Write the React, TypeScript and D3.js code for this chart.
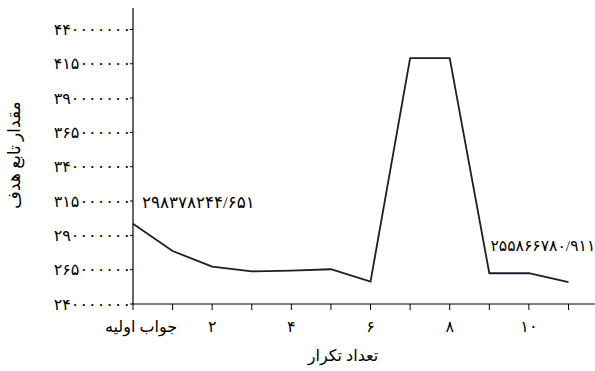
import React from "react";
import * as d3 from "d3";

const iterations = [0, 1, 2, 3, 4, 5, 6, 7, 8, 9, 10, 11];
const objectiveValues = [
  298378244.651, 278600000, 267200000, 263800000, 264300000, 265300000,
  256300000, 419100000, 419100000, 262400000, 262400000, 255866780.911,
];
const yTickValues = [240e6, 265e6, 290e6, 315e6, 340e6, 365e6, 390e6, 415e6, 440e6];
const xTickLabels = ["جواب اولیه", "", "۲", "", "۴", "", "۶", "", "۸", "", "۱۰", ""];
const annotations = [
  { index: 0, text: "۲۹۸۳۷۸۲۴۴/۶۵۱" },
  { index: 11, text: "۲۵۵۸۶۶۷۸۰/۹۱۱" },
];
const yTitle = "مقدار تابع هدف";
const xTitle = "تعداد تکرار";

const faDigits = "۰۱۲۳۴۵۶۷۸۹";
const toFa = (s: string) => s.replace(/[0-9]/g, (d) => faDigits[+d]);

const W = 595;
const H = 371;
const FONT = "'Liberation Serif', 'DejaVu Serif', 'DejaVu Sans', serif";

export default function App() {
  const x = d3.scaleLinear().domain([0, 11.67]).range([133, 595]);
  const y = d3.scaleLinear().domain([240e6, 455.6e6]).range([304, 8]);
  const line = d3
    .line<number>()
    .x((_, i) => x(iterations[i]))
    .y((d) => y(d));
  const ink = "#1c1c2e";
  return (
    <div style={{ position: "fixed", left: 0, top: 0 }}>
      <svg width={W} height={H} style={{ display: "block", background: "#fff" }} fontFamily={FONT}>
        {/* y axis */}
        <line x1={x(0)} x2={x(0)} y1={y.range()[1]} y2={y.range()[0]} stroke="#000" strokeWidth={1.2} />
        {yTickValues.map((v) => (
          <g key={v} transform={`translate(0,${y(v)})`}>
            <line x1={x(0) - 3} x2={x(0)} stroke="#000" strokeWidth={1} />
            <text x={x(0) - 2} dy="0.35em" textAnchor="end" fontSize={16} fill="#000" direction="ltr">
              {toFa(String(v))}
            </text>
          </g>
        ))}
        {/* x axis */}
        <line x1={x(0) - 1} x2={x.range()[1]} y1={y(240e6)} y2={y(240e6)} stroke="#000" strokeWidth={1.2} />
        {iterations.map((it, i) => (
          <g key={it} transform={`translate(${x(it)},${y(240e6)})`}>
            <line y1={0} y2={6} stroke="#000" strokeWidth={1} />
            {xTickLabels[i] && (
              <text x={i === 0 ? 8 : 0} y={28} textAnchor="middle" fontSize={16} fill="#000">
                {xTickLabels[i]}
              </text>
            )}
          </g>
        ))}
        {/* series */}
        <path d={line(objectiveValues) || ""} fill="none" stroke={ink} strokeWidth={1.8} strokeLinejoin="miter" />
        {/* annotations */}
        <text x={x(annotations[0].index) + 9} y={y(objectiveValues[annotations[0].index]) - 16} fontSize={16.8} fill="#000" direction="ltr">
          {annotations[0].text}
        </text>
        <text x={x(annotations[1].index) - 78} y={y(objectiveValues[annotations[1].index]) - 31} fontSize={15.6} fill="#000" direction="ltr">
          {annotations[1].text}
        </text>
        {/* titles */}
        <text transform="translate(20,155) rotate(-90)" textAnchor="middle" fontSize={17} fill="#000">
          {yTitle}
        </text>
        <text x={343} y={361} textAnchor="middle" fontSize={16} fill="#000">
          {xTitle}
        </text>
      </svg>
    </div>
  );
}
